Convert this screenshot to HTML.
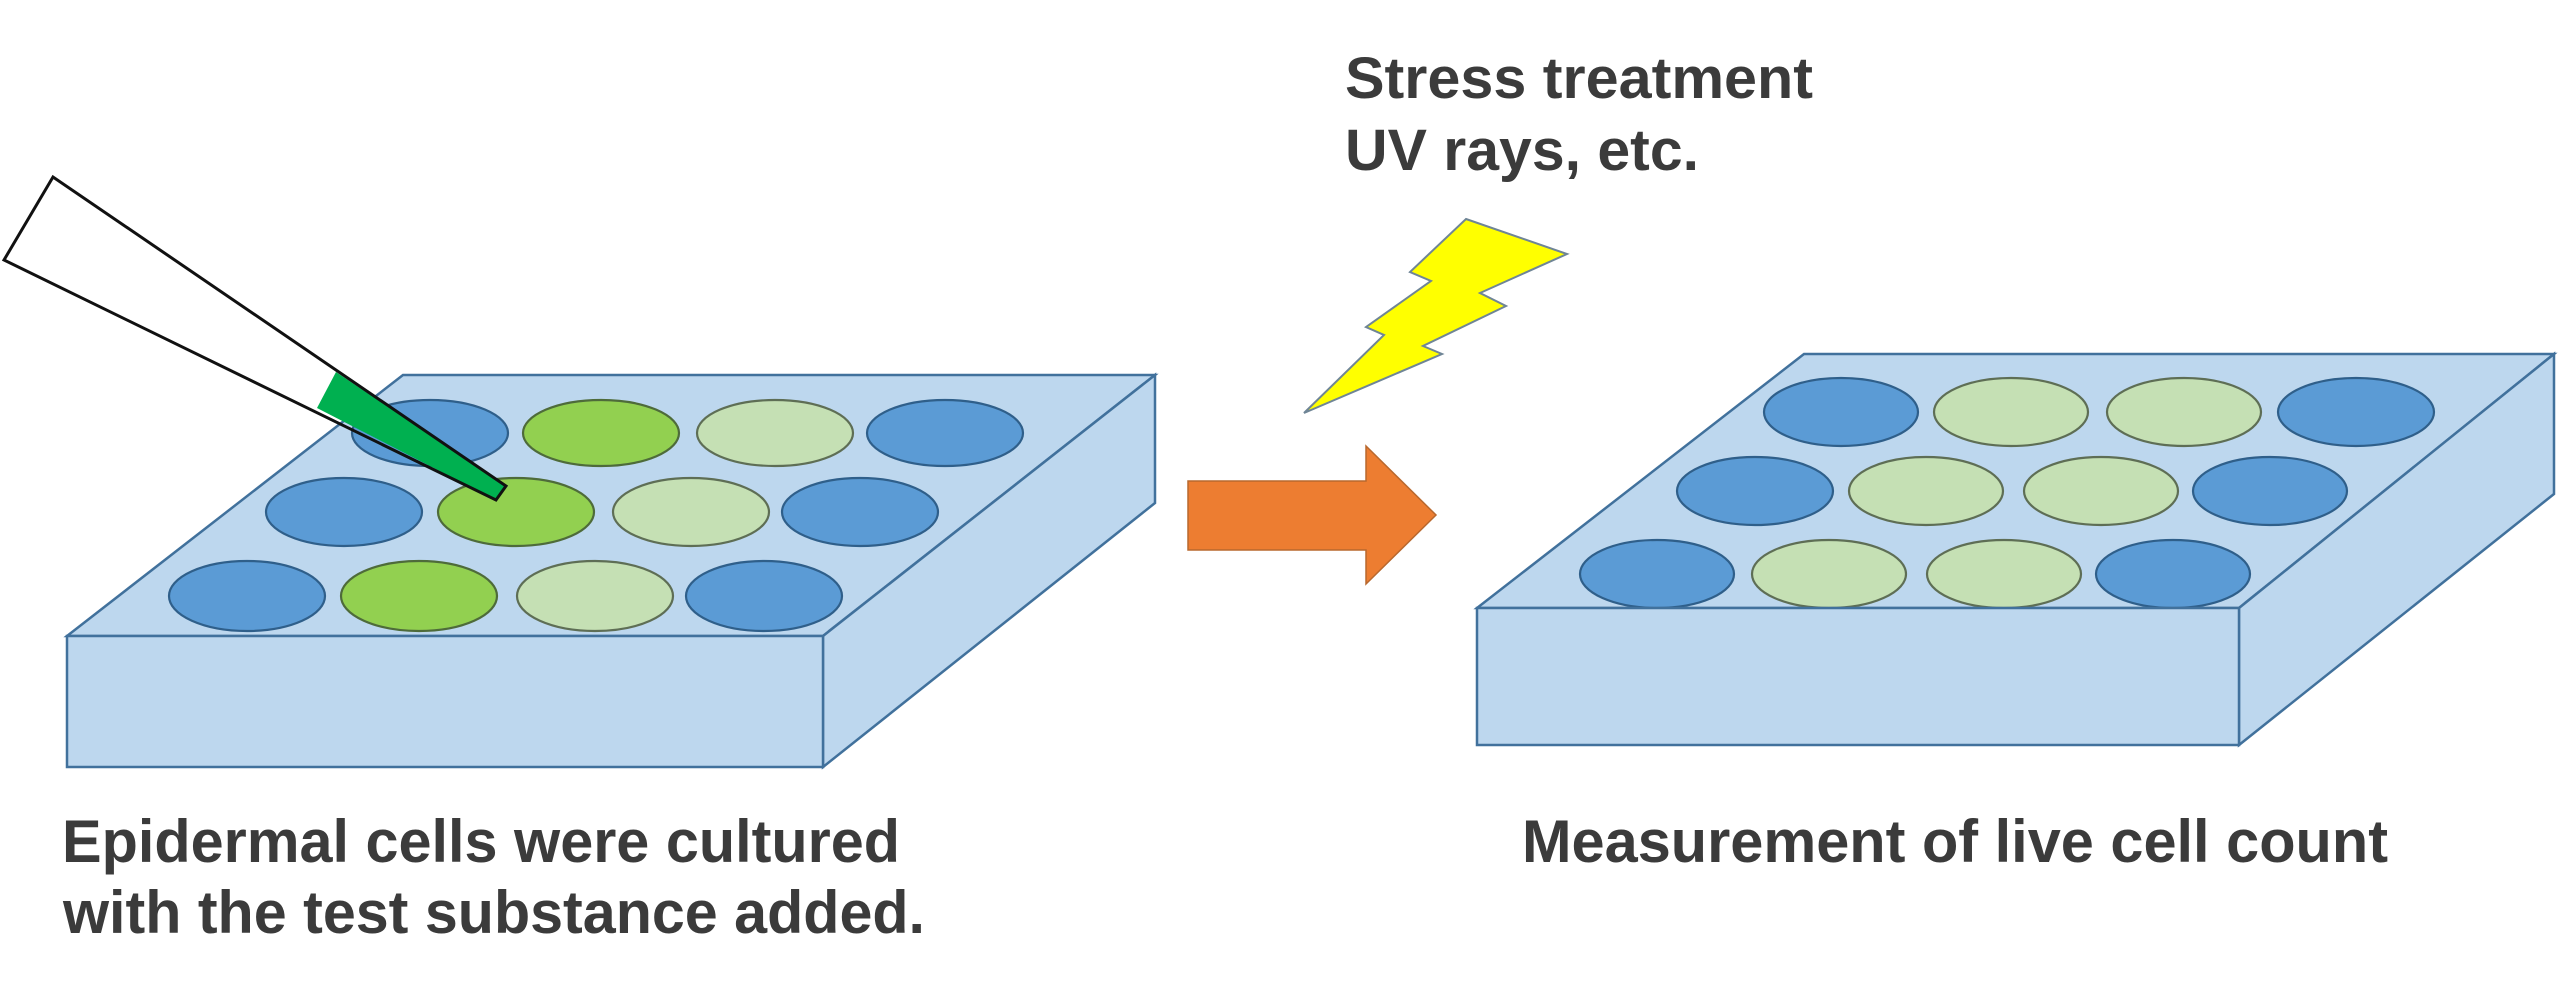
<!DOCTYPE html>
<html>
<head>
<meta charset="utf-8">
<style>
  html,body{margin:0;padding:0;background:#ffffff;}
  body{width:2560px;height:983px;overflow:hidden;}
  svg{display:block;}
  .t{font-family:"Liberation Sans",Arial,sans-serif;font-weight:bold;fill:#3b3b3b;}
</style>
</head>
<body>
<svg width="2560" height="983" viewBox="0 0 2560 983" xmlns="http://www.w3.org/2000/svg">
  <rect width="2560" height="983" fill="#ffffff"/>

  <!-- ===== LEFT PLATE ===== -->
  <g stroke="#41719C" stroke-width="2.5" stroke-linejoin="miter">
    <polygon points="403,375 1155,375 823,636 67,636" fill="#BDD7EE"/>
  </g>
  <!-- wells left -->
  <g stroke-width="2.2">
    <!-- row 1 -->
    <ellipse cx="430" cy="433" rx="78" ry="33" fill="#5B9BD5" stroke="#2F5F8A"/>
    <ellipse cx="601" cy="433" rx="78" ry="33" fill="#92D050" stroke="#4E6B3A"/>
    <ellipse cx="775" cy="433" rx="78" ry="33" fill="#C5E0B4" stroke="#5E6E55"/>
    <ellipse cx="945" cy="433" rx="78" ry="33" fill="#5B9BD5" stroke="#2F5F8A"/>
    <!-- row 2 -->
    <ellipse cx="344" cy="512" rx="78" ry="34" fill="#5B9BD5" stroke="#2F5F8A"/>
    <ellipse cx="516" cy="512" rx="78" ry="34" fill="#92D050" stroke="#4E6B3A"/>
    <ellipse cx="691" cy="512" rx="78" ry="34" fill="#C5E0B4" stroke="#5E6E55"/>
    <ellipse cx="860" cy="512" rx="78" ry="34" fill="#5B9BD5" stroke="#2F5F8A"/>
    <!-- row 3 -->
    <ellipse cx="247" cy="596" rx="78" ry="35" fill="#5B9BD5" stroke="#2F5F8A"/>
    <ellipse cx="419" cy="596" rx="78" ry="35" fill="#92D050" stroke="#4E6B3A"/>
    <ellipse cx="595" cy="596" rx="78" ry="35" fill="#C5E0B4" stroke="#5E6E55"/>
    <ellipse cx="764" cy="596" rx="78" ry="35" fill="#5B9BD5" stroke="#2F5F8A"/>
  </g>
  <g stroke="#41719C" stroke-width="2.5" stroke-linejoin="miter">
    <polygon points="823,636 1155,375 1155,503 823,767" fill="#BDD7EE"/>
    <rect x="67" y="636" width="756" height="131" fill="#BDD7EE"/>
  </g>
  <line x1="828" y1="631" x2="1000" y2="496" stroke="#41719C" stroke-width="1.2" opacity="0.7"/>

  <!-- pipette -->
  <polygon points="53,177 4,260 317,408 336,372" fill="#ffffff"/>
  <polygon points="336,372 317,408 496,500 506,486" fill="#00B050"/>
  <polygon points="53,177 4,260 496,500 506,486" fill="none" stroke="#111111" stroke-width="3" stroke-linejoin="miter"/>

  <!-- ===== ARROW ===== -->
  <polygon points="1188,481 1366,481 1366,446 1436,515 1366,584 1366,550 1188,550" fill="#ED7D31" stroke="#B8682E" stroke-width="1.5"/>

  <!-- ===== LIGHTNING ===== -->
  <polygon points="1466,219 1567,254 1480,293 1506,306 1423,346 1442,354 1304,413 1384,335 1366,327 1431,281 1410,272" fill="#FFFF00" stroke="#6F8596" stroke-width="2" stroke-linejoin="miter"/>

  <!-- ===== RIGHT PLATE ===== -->
  <g stroke="#41719C" stroke-width="2.5">
    <polygon points="1804,354 2554,354 2239,608 1477,608" fill="#BDD7EE"/>
  </g>
  <g stroke-width="2.2">
    <!-- row 1 -->
    <ellipse cx="1841" cy="412" rx="77" ry="34" fill="#5B9BD5" stroke="#2F5F8A"/>
    <ellipse cx="2011" cy="412" rx="77" ry="34" fill="#C5E0B4" stroke="#5E6E55"/>
    <ellipse cx="2184" cy="412" rx="77" ry="34" fill="#C5E0B4" stroke="#5E6E55"/>
    <ellipse cx="2356" cy="412" rx="78" ry="34" fill="#5B9BD5" stroke="#2F5F8A"/>
    <!-- row 2 -->
    <ellipse cx="1755" cy="491" rx="78" ry="34" fill="#5B9BD5" stroke="#2F5F8A"/>
    <ellipse cx="1926" cy="491" rx="77" ry="34" fill="#C5E0B4" stroke="#5E6E55"/>
    <ellipse cx="2101" cy="491" rx="77" ry="34" fill="#C5E0B4" stroke="#5E6E55"/>
    <ellipse cx="2270" cy="491" rx="77" ry="34" fill="#5B9BD5" stroke="#2F5F8A"/>
    <!-- row 3 -->
    <ellipse cx="1657" cy="574" rx="77" ry="34" fill="#5B9BD5" stroke="#2F5F8A"/>
    <ellipse cx="1829" cy="574" rx="77" ry="34" fill="#C5E0B4" stroke="#5E6E55"/>
    <ellipse cx="2004" cy="574" rx="77" ry="34" fill="#C5E0B4" stroke="#5E6E55"/>
    <ellipse cx="2173" cy="574" rx="77" ry="34" fill="#5B9BD5" stroke="#2F5F8A"/>
  </g>
  <g stroke="#41719C" stroke-width="2.5">
    <polygon points="2239,608 2554,354 2554,494 2239,745" fill="#BDD7EE"/>
    <rect x="1477" y="608" width="762" height="137" fill="#BDD7EE"/>
  </g>
  <line x1="2244" y1="603" x2="2420" y2="462" stroke="#41719C" stroke-width="1.2" opacity="0.7"/>

  <!-- ===== TEXT ===== -->
  <text class="t" x="1345" y="98" font-size="58" textLength="468" lengthAdjust="spacingAndGlyphs">Stress treatment</text>
  <text class="t" x="1345" y="170" font-size="58" textLength="354" lengthAdjust="spacingAndGlyphs">UV rays, etc.</text>

  <text class="t" x="62" y="862" font-size="60" textLength="838" lengthAdjust="spacingAndGlyphs">Epidermal cells were cultured</text>
  <text class="t" x="63" y="933" font-size="60" textLength="862" lengthAdjust="spacingAndGlyphs">with the test substance added.</text>

  <text class="t" x="1522" y="862" font-size="60" textLength="866" lengthAdjust="spacingAndGlyphs">Measurement of live cell count</text>
</svg>
</body>
</html>
